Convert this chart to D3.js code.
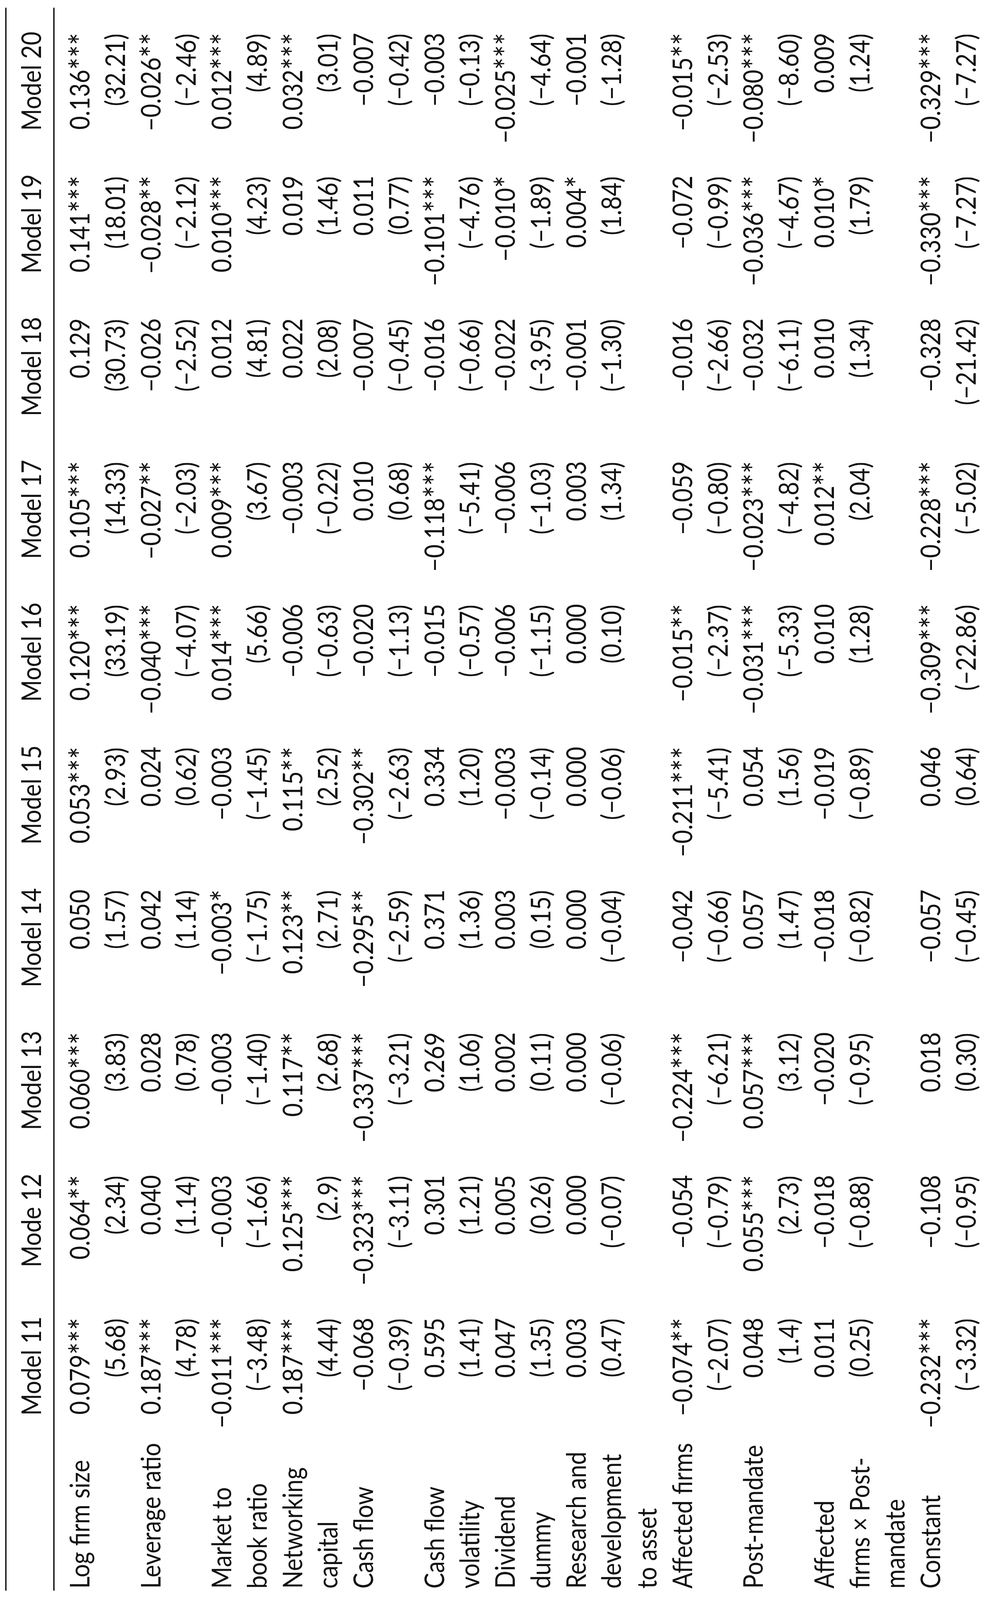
<!DOCTYPE html>
<html>
<head>
<meta charset="utf-8">
<script src="https://cdn.jsdelivr.net/npm/d3@7"></script>
<style>
  html, body { margin: 0; padding: 0; background: #fff; overflow: hidden; }
  svg { display: block; }
  text { font-family: Lato, "Open Sans", sans-serif; fill: #111; }
</style>
</head>
<body>
<div id="chart"></div>
<script>
// table values
const models = ["Model 11", "Mode 12", "Model 13", "Model 14", "Model 15",
                "Model 16", "Model 17", "Model 18", "Model 19", "Model 20"];

const variables = [
  ["Log firm size"],
  ["Leverage ratio"],
  ["Market to", "book ratio"],
  ["Networking", "capital"],
  ["Cash flow"],
  ["Cash flow", "volatility"],
  ["Dividend", "dummy"],
  ["Research and", "development", "to asset"],
  ["Affected firms"],
  ["Post-mandate"],
  ["Affected", "firms \u00d7 Post-", "mandate"],
  ["Constant"]
];

// text line on which each variable's coefficient sits
const rowLine = [0, 2, 4, 6, 8, 10, 12, 14, 17, 19, 21, 24];

// one array per model, in variable order
const coefficients = [
  ["0.079", "0.187", "\u22120.011", "0.187", "\u22120.068", "0.595", "0.047", "0.003", "\u22120.074", "0.048", "0.011", "\u22120.232"],
  ["0.064", "0.040", "\u22120.003", "0.125", "\u22120.323", "0.301", "0.005", "0.000", "\u22120.054", "0.055", "\u22120.018", "\u22120.108"],
  ["0.060", "0.028", "\u22120.003", "0.117", "\u22120.337", "0.269", "0.002", "0.000", "\u22120.224", "0.057", "\u22120.020", "0.018"],
  ["0.050", "0.042", "\u22120.003", "0.123", "\u22120.295", "0.371", "0.003", "0.000", "\u22120.042", "0.057", "\u22120.018", "\u22120.057"],
  ["0.053", "0.024", "\u22120.003", "0.115", "\u22120.302", "0.334", "\u22120.003", "0.000", "\u22120.211", "0.054", "\u22120.019", "0.046"],
  ["0.120", "\u22120.040", "0.014", "\u22120.006", "\u22120.020", "\u22120.015", "\u22120.006", "0.000", "\u22120.015", "\u22120.031", "0.010", "\u22120.309"],
  ["0.105", "\u22120.027", "0.009", "\u22120.003", "0.010", "\u22120.118", "\u22120.006", "0.003", "\u22120.059", "\u22120.023", "0.012", "\u22120.228"],
  ["0.129", "\u22120.026", "0.012", "0.022", "\u22120.007", "\u22120.016", "\u22120.022", "\u22120.001", "\u22120.016", "\u22120.032", "0.010", "\u22120.328"],
  ["0.141", "\u22120.028", "0.010", "0.019", "0.011", "\u22120.101", "\u22120.010", "0.004", "\u22120.072", "\u22120.036", "0.010", "\u22120.330"],
  ["0.136", "\u22120.026", "0.012", "0.032", "\u22120.007", "\u22120.003", "\u22120.025", "\u22120.001", "\u22120.015", "\u22120.080", "0.009", "\u22120.329"]
];

const stars = [
  ["***", "***", "***", "***", "", "", "", "", "**", "", "", "***"],
  ["**", "", "", "***", "***", "", "", "", "", "***", "", ""],
  ["***", "", "", "**", "***", "", "", "", "***", "***", "", ""],
  ["", "", "*", "**", "**", "", "", "", "", "", "", ""],
  ["***", "", "", "**", "**", "", "", "", "***", "", "", ""],
  ["***", "***", "***", "", "", "", "", "", "**", "***", "", "***"],
  ["***", "**", "***", "", "", "***", "", "", "", "***", "**", "***"],
  ["", "", "", "", "", "", "", "", "", "", "", ""],
  ["***", "**", "***", "", "", "***", "*", "*", "", "***", "*", "***"],
  ["***", "**", "***", "***", "", "", "***", "", "**", "***", "", "***"]
];

const tStats = [
  ["5.68", "4.78", "\u22123.48", "4.44", "\u22120.39", "1.41", "1.35", "0.47", "\u22122.07", "1.4", "0.25", "\u22123.32"],
  ["2.34", "1.14", "\u22121.66", "2.9", "\u22123.11", "1.21", "0.26", "\u22120.07", "\u22120.79", "2.73", "\u22120.88", "\u22120.95"],
  ["3.83", "0.78", "\u22121.40", "2.68", "\u22123.21", "1.06", "0.11", "\u22120.06", "\u22126.21", "3.12", "\u22120.95", "0.30"],
  ["1.57", "1.14", "\u22121.75", "2.71", "\u22122.59", "1.36", "0.15", "\u22120.04", "\u22120.66", "1.47", "\u22120.82", "\u22120.45"],
  ["2.93", "0.62", "\u22121.45", "2.52", "\u22122.63", "1.20", "\u22120.14", "\u22120.06", "\u22125.41", "1.56", "\u22120.89", "0.64"],
  ["33.19", "\u22124.07", "5.66", "\u22120.63", "\u22121.13", "\u22120.57", "\u22121.15", "0.10", "\u22122.37", "\u22125.33", "1.28", "\u221222.86"],
  ["14.33", "\u22122.03", "3.67", "\u22120.22", "0.68", "\u22125.41", "\u22121.03", "1.34", "\u22120.80", "\u22124.82", "2.04", "\u22125.02"],
  ["30.73", "\u22122.52", "4.81", "2.08", "\u22120.45", "\u22120.66", "\u22123.95", "\u22121.30", "\u22122.66", "\u22126.11", "1.34", "\u221221.42"],
  ["18.01", "\u22122.12", "4.23", "1.46", "0.77", "\u22124.76", "\u22121.89", "1.84", "\u22120.99", "\u22124.67", "1.79", "\u22127.27"],
  ["32.21", "\u22122.46", "4.89", "3.01", "\u22120.42", "\u22120.13", "\u22124.64", "\u22121.28", "\u22122.53", "\u22128.60", "1.24", "\u22127.27"]
];

// design size of the page; the svg is stretched onto whatever window we get
const W = 2532, H = 4768;
const fontSize = 70;

const svg = d3.select("#chart").append("svg")
  .attr("width", window.innerWidth || W)
  .attr("height", window.innerHeight || H)
  .attr("viewBox", `0 0 ${W} ${H}`)
  .attr("preserveAspectRatio", "none");

// the table is printed sideways: reading direction runs up the page
const table = svg.append("g")
  .attr("transform", `translate(0,${H}) rotate(-90)`);

// line index -> distance from the top rule
const y = d3.scaleLinear().domain([0, 25]).range([229, 2498]);
// model index -> right edge of the column
const x = d3.scaleLinear().domain([0, models.length - 1]).range([845, 4674]);

// rules
table.selectAll(".rule")
  .data([15, 138])
  .enter()
  .append("line")
  .attr("class", "rule")
  .attr("x1", 28)
  .attr("x2", 4745)
  .attr("y1", d => d)
  .attr("y2", d => d)
  .style("stroke", "#111")
  .style("stroke-width", 3.5);

// column headers
table.selectAll(".head")
  .data(models)
  .enter()
  .append("text")
  .attr("class", "head")
  .attr("x", (d, i) => x(i))
  .attr("y", 105)
  .style("font-size", fontSize + "px")
  .style("text-anchor", "end")
  .text(d => d);

// row labels
variables.forEach((lines, r) => {
  table.selectAll(null)
    .data(lines)
    .enter()
    .append("text")
    .attr("x", 34)
    .attr("y", (d, k) => y(rowLine[r] + k))
    .style("font-size", fontSize + "px")
    .text(d => d);
});

// coefficients and t statistics
models.forEach((m, i) => {
  const col = table.append("g").attr("class", "col");

  const coef = col.selectAll(".coef")
    .data(coefficients[i])
    .enter()
    .append("text")
    .attr("class", "coef")
    .attr("x", x(i) - 4)
    .attr("y", (d, r) => y(rowLine[r]))
    .style("font-size", fontSize + "px")
    .style("text-anchor", "end");
  coef.append("tspan").text(d => d);
  coef.append("tspan")
    .attr("dy", 10)
    .style("font-size", "86px")
    .text((d, r) => stars[i][r]);

  col.selectAll(".tstat")
    .data(tStats[i])
    .enter()
    .append("text")
    .attr("class", "tstat")
    .attr("x", x(i) - 6)
    .attr("y", (d, r) => y(rowLine[r] + 1))
    .style("font-size", fontSize + "px")
    .style("text-anchor", "end")
    .text(d => `(${d})`);
});
</script>
</body>
</html>
